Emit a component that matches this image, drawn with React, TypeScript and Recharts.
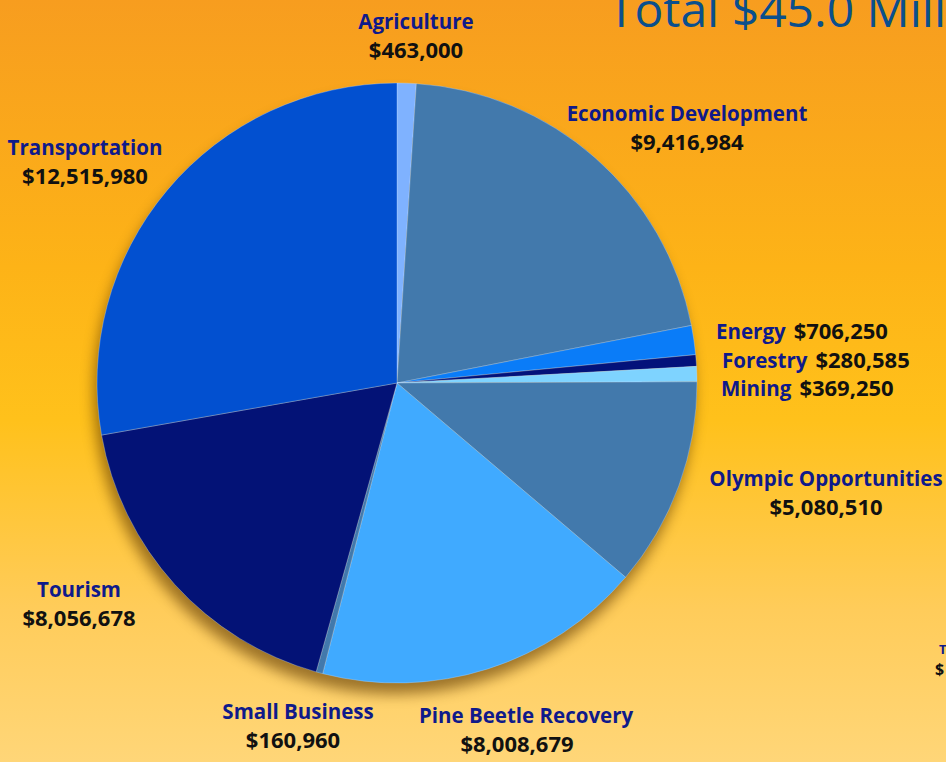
import { Cell, Pie, PieChart } from "recharts"

const sectors = [
	"Agriculture",
	"Economic Development",
	"Energy",
	"Forestry",
	"Mining",
	"Olympic Opportunities",
	"Pine Beetle Recovery",
	"Small Business",
	"Tourism",
	"Transportation",
]

const amounts = [
	463000, 9416984, 706250, 280585, 369250, 5080510, 8008679, 160960, 8056678,
	12515980,
]

const sliceColors = [
	"#7fb2ff",
	"#4279ac",
	"#0a7cf8",
	"#03127a",
	"#7ed3ff",
	"#4279ac",
	"#40aaff",
	"#4279ac",
	"#031276",
	"#0250d0",
]

// label anchor offsets from the pie centre; inline = name and amount on one row
const labelLayout = [
	{ dx: 19, dy: -354, inline: false },
	{ dx: 290, dy: -262, inline: false },
	{ dx: 319, dy: -44, inline: true },
	{ dx: 325, dy: -15, inline: true },
	{ dx: 324, dy: 13, inline: true },
	{ dx: 429, dy: 103, inline: false },
	{ dx: 129, dy: 340, inline: false },
	{ dx: -99, dy: 336, inline: false },
	{ dx: -318, dy: 214, inline: false },
	{ dx: -312, dy: -228, inline: false },
]

const chartData = sectors.map((name, i) => ({ name, value: amounts[i] }))

const fmt = (v: number) => "$" + v.toLocaleString("en-US")

const NAME_COLOR = "#0f1a8a"
const FONT = "'Open Sans', 'DejaVu Sans', sans-serif"

function renderLabel(props: any) {
	const { cx, cy, index } = props
	const l = labelLayout[index]
	const x = cx + l.dx
	const y = cy + l.dy
	if (l.inline) {
		return (
			<text
				key={"lbl" + index}
				x={x}
				y={y}
				fontFamily={FONT}
				fontWeight={700}
			>
				<tspan fill={NAME_COLOR} fontSize={20.5}>
					{sectors[index]}
				</tspan>
				<tspan fill="#111" fontSize={22} dx={8}>
					{fmt(amounts[index])}
				</tspan>
			</text>
		)
	}
	return (
		<g key={"lbl" + index}>
			<text
				x={x}
				y={y}
				textAnchor="middle"
				fontFamily={FONT}
				fontWeight={700}
				fontSize={20.5}
				fill={NAME_COLOR}
			>
				{sectors[index]}
			</text>
			<text
				x={x - (index === 6 ? 9 : index === 7 ? 5 : 0)}
				y={y + 29}
				textAnchor="middle"
				fontFamily={FONT}
				fontWeight={700}
				fontSize={22}
				fill="#111"
			>
				{fmt(amounts[index])}
			</text>
		</g>
	)
}

export default function App() {
	return (
		<div
			style={{
				position: "relative",
				width: 946,
				height: 762,
				overflow: "hidden",
				background:
					"linear-gradient(180deg, #f79d1f 0%, #fdb317 35%, #ffc11b 55%, #ffcc5a 80%, #ffd678 100%)",
			}}
		>
			<style>{`
				body { margin: 0; }
				.pie-shadow path { filter: blur(7px); opacity: 0.6; }
			`}</style>
			<PieChart
				width={946}
				height={762}
				margin={{ top: 0, right: 0, bottom: 0, left: 0 }}
			>
				<Pie
					className="pie-shadow"
					data={[{ name: "shadow", value: 1 }]}
					dataKey="value"
					cx={394}
					cy={394}
					outerRadius={300}
					fill="#5a3500"
					stroke="none"
					startAngle={90}
					endAngle={-270}
					isAnimationActive={false}
				/>
				<Pie
					data={chartData}
					dataKey="value"
					nameKey="name"
					cx={397}
					cy={383}
					outerRadius={300}
					startAngle={90}
					endAngle={-270}
					stroke="rgba(200,225,255,0.45)"
					strokeWidth={0.7}
					label={renderLabel}
					labelLine={false}
					isAnimationActive={false}
				>
					{chartData.map((d, i) => (
						<Cell key={d.name} fill={sliceColors[i]} />
					))}
				</Pie>
			</PieChart>
			<svg
				width={946}
				height={762}
				style={{ position: "absolute", left: 0, top: 0, pointerEvents: "none" }}
			>
				<text x={608} y={27} fontFamily={FONT} fontSize={48} fill="#0b4f8c">
					Total $45.0 Million
				</text>
				<text
					x={939}
					y={654}
					fontFamily={FONT}
					fontWeight={700}
					fontSize={13}
					fill={NAME_COLOR}
				>
					T
				</text>
				<text
					x={935}
					y={675}
					fontFamily={FONT}
					fontWeight={700}
					fontSize={16}
					fill="#111"
				>
					$
				</text>
			</svg>
		</div>
	)
}
